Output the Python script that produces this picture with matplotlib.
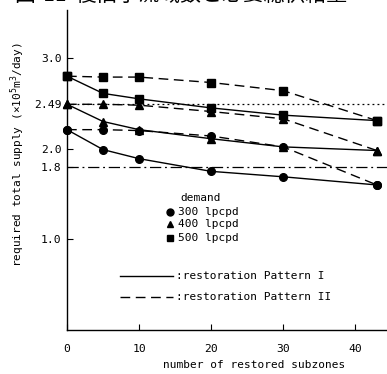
import numpy as np
import matplotlib.pyplot as plt

# number of restored subzones
subzones = [0, 5, 10, 20, 30, 43]

# required total supply (x10^5 m3/day)
p1_300 = [2.21, 1.99, 1.89, 1.75, 1.69, 1.60]
p2_300 = [2.21, 2.21, 2.20, 2.14, 2.02, 1.60]
p1_400 = [2.49, 2.30, 2.21, 2.11, 2.02, 1.98]
p2_400 = [2.49, 2.49, 2.48, 2.41, 2.33, 1.98]
p1_500 = [2.80, 2.61, 2.55, 2.45, 2.37, 2.31]
p2_500 = [2.80, 2.79, 2.79, 2.73, 2.64, 2.31]

ref_dotted = 2.49
ref_dashdot = 1.8

yticks = [1.0, 1.8, 2.0, 2.49, 3.0]
ytick_labels = ['1.0', '1.8', '2.0', '2.49', '3.0']
xticks = [0, 10, 20, 30, 40]

plt.rcParams['font.family'] = ['DejaVu Sans Mono', 'Noto Sans CJK JP']

fig = plt.figure(figsize=(3.87, 3.74), dpi=100)
ax = fig.add_axes([67/387, 44/374, 320/387, 320/374])

dash = (0, (7, 4))
kw = dict(color='black', lw=1.0, ms=5.5, clip_on=False)
ax.plot(subzones, p1_300, '-', marker='o', **kw)
ax.plot(subzones, p2_300, linestyle=dash, marker='o', **kw)
ax.plot(subzones, p1_400, '-', marker='^', **kw)
ax.plot(subzones, p2_400, linestyle=dash, marker='^', **kw)
ax.plot(subzones, p1_500, '-', marker='s', **kw)
ax.plot(subzones, p2_500, linestyle=dash, marker='s', **kw)

ax.axhline(ref_dotted, color='black', lw=0.9, linestyle=(0, (1.5, 2.5)))
ax.axhline(ref_dashdot, color='black', lw=0.9, linestyle=(0, (9, 3, 1.5, 3)))

ax.set_xlim(0, 44.4)
ax.set_ylim(0, 3.53)
ax.set_xticks(xticks)
ax.set_yticks(yticks)
ax.set_yticklabels(ytick_labels)
ax.tick_params(direction='in', length=4, width=0.8, labelsize=8.2, pad=4)
ax.tick_params(axis='x', pad=10)
for s in ['top', 'right']:
    ax.spines[s].set_visible(False)
ax.spines['left'].set_linewidth(1.0)
ax.spines['bottom'].set_linewidth(1.0)

ax.set_xlabel('number of restored subzones', fontsize=8)
ax.xaxis.set_label_coords(0.584, -0.093)
ax.set_ylabel('required total supply (×10$^5$m$^3$/day)', fontsize=8)
ax.yaxis.set_label_coords(-0.125, 0.547)

# legend drawn by hand
T = ax.transAxes
ax.text(0.353, 0.4125, 'demand', transform=T, fontsize=8, va='center')
for yy, mk, lab in [(0.369, 'o', '300 lpcpd'), (0.331, '^', '400 lpcpd'), (0.2875, 's', '500 lpcpd')]:
    ax.plot([0.322], [yy], marker=mk, color='black', ms=5, transform=T)
    ax.text(0.347, yy, lab, transform=T, fontsize=8, va='center')

ax.plot([0.166, 0.331], [0.169, 0.169], '-', color='black', lw=1.0, transform=T)
ax.text(0.34, 0.169, ':restoration Pattern I', transform=T, fontsize=8, va='center')
ax.plot([0.166, 0.331], [0.103, 0.103], linestyle=dash, color='black', lw=1.0, transform=T)
ax.text(0.34, 0.103, ':restoration Pattern II', transform=T, fontsize=8, va='center')

# cropped caption at the top of the page
fig.text(0.04, 1 - 6/374, '図-11  復旧小流域数と必要総供給量', fontsize=15,
         family=['Noto Sans CJK JP'], va='bottom', ha='left')

fig.savefig('out.png', dpi=100)
